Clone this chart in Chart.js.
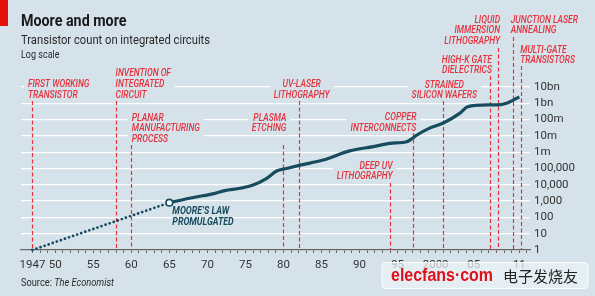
<!DOCTYPE html>
<html>
<head>
<meta charset="utf-8">
<script src="https://cdn.jsdelivr.net/npm/chart.js@4.4.1/dist/chart.umd.min.js"></script>
<style>
  html, body { margin: 0; padding: 0; background: #d5e2ea; }
  #chart { display: block; }
</style>
</head>
<body>
<canvas id="chart" width="595" height="296"></canvas>
<script>
// data
const earlyYears = [1947, 1965];
const earlyCounts = [1, 800];
const years = [1965, 1968, 1971, 1972.3, 1974.3, 1976, 1977.8, 1979.1, 1980.4, 1982.2, 1985.2, 1988.7, 1991.8, 1994, 1996.2, 1997, 1997.5, 1999.2, 2001, 2003.2, 2004.2, 2006.7, 2008.2, 2009.3, 2011];
const counts = [800, 1600, 3000, 4400, 6100, 9700, 25000, 70000, 100000, 160000, 330000, 1.2e6, 2.2e6, 3.5e6, 4.4e6, 7.4e6, 1.1e7, 3e7, 6.2e7, 2.5e8, 6.2e8, 7.9e8, 7.9e8, 1e9, 2.5e9];

const yTicks = [1, 10, 100, 1e3, 1e4, 1e5, 1e6, 1e7, 1e8, 1e9, 1e10];
const yTickLabels = ["1", "10", "100", "1,000", "10,000", "100,000", "1m", "10m", "100m", "1bn", "10bn"];
const xTickYears = [1947, 1950, 1955, 1960, 1965, 1970, 1975, 1980, 1985, 1990, 1995, 2000, 2005, 2011];
const xTickLabels = ["1947", "50", "55", "60", "65", "70", "75", "80", "85", "90", "95", "2000", "05", "11"];

const eventYears = [1947, 1958, 1960, 1980, 1982, 1994, 1997, 2001, 2007.2, 2008.2, 2010.2, 2011.2];
const eventLabels = [
  ["FIRST WORKING", "TRANSISTOR"],
  ["INVENTION OF", "INTEGRATED", "CIRCUIT"],
  ["PLANAR", "MANUFACTURING", "PROCESS"],
  ["PLASMA", "ETCHING"],
  ["UV-LASER", "LITHOGRAPHY"],
  ["DEEP UV", "LITHOGRAPHY"],
  ["COPPER", "INTERCONNECTS"],
  ["STRAINED", "SILICON WAFERS"],
  ["HIGH-K GATE", "DIELECTRICS"],
  ["LIQUID", "IMMERSION", "LITHOGRAPHY"],
  ["JUNCTION LASER", "ANNEALING"],
  ["MULTI-GATE", "TRANSISTORS"]
];

// where each event label sits (pixels), kept apart from the data
const eventLayout = [
  { align: "left", dx: -4.5, y: 84.5, top: 101, padR: 24 },
  { align: "left", dx: -0.5, y: 73.5, top: 101 },
  { align: "left", dx: 0.5, y: 118, top: 145 },
  { align: "right", dx: 3, y: 118, top: 145 },
  { align: "center", dx: 3, y: 84.5, top: 101 },
  { align: "right", dx: 2.5, y: 166, top: 183 },
  { align: "right", dx: 3.5, y: 117.7, top: 133 },
  { align: "center", dx: 1, y: 85, top: 101 },
  { align: "right", dx: 1.5, y: 60, top: 76 },
  { align: "right", dx: 2, y: 20, top: 48 },
  { align: "left", dx: -2.5, y: 20, top: 37 },
  { align: "left", dx: -0.7, y: 50, top: 66 }
];

const BG = "#d5e2ea";
const RED = "#e5323d";
const TEAL = "#174b5e";
const LABEL_FONT = "italic 500 10.8px Roboto";
const LABEL_SX = 0.79;
const LINE_H = 10.7;

function drawText(ctx, str, x, y, font, color, align, sx) {
  ctx.save();
  ctx.font = font;
  ctx.fillStyle = color;
  ctx.textBaseline = "middle";
  ctx.textAlign = "left";
  const w = ctx.measureText(str).width * sx;
  let left = x;
  if (align === "right") left = x - w;
  else if (align === "center") left = x - w / 2;
  ctx.translate(left, y);
  ctx.scale(sx, 1);
  ctx.fillText(str, 0, 0);
  ctx.restore();
  return w;
}

const headerPlugin = {
  id: "header",
  beforeDraw(chart) {
    const ctx = chart.ctx;
    ctx.save();
    ctx.fillStyle = "#e3120b";
    ctx.fillRect(0, 0, 8, 26);
    ctx.restore();
    drawText(ctx, "Moore and more", 21, 21.5, "bold 17px Roboto", "#1a1a1a", "left", 0.84);
    drawText(ctx, "Transistor count on integrated circuits", 21, 41, "13.5px Roboto", "#2a2a2a", "left", 0.83);
    drawText(ctx, "Log scale", 21, 55.5, "10.5px Roboto", "#2a2a2a", "left", 0.86);
    const w = drawText(ctx, "Source: ", 21, 283, "10.5px Roboto", "#2a2a2a", "left", 0.88);
    drawText(ctx, "The Economist", 21 + w, 283, "italic 10.5px Roboto", "#2a2a2a", "left", 0.88);
  }
};

const eventPlugin = {
  id: "events",
  beforeDatasetsDraw(chart) {
    const ctx = chart.ctx;
    const xs = chart.scales.x;
    const bottom = chart.chartArea.bottom;
    ctx.save();
    ctx.font = LABEL_FONT;
    const boxes = eventYears.map((yr, i) => {
      const L = eventLayout[i];
      const px = xs.getPixelForValue(yr);
      const w = Math.max(...eventLabels[i].map(s => ctx.measureText(s).width)) * LABEL_SX;
      const ax = px + L.dx;
      const left = L.align === "left" ? ax : L.align === "right" ? ax - w : ax - w / 2;
      return { px, ax, left, w, L, lines: eventLabels[i] };
    });
    // label backgrounds cut the gridlines
    ctx.fillStyle = BG;
    boxes.forEach(b => {
      const n = b.lines.length;
      ctx.fillRect(b.left - 4, b.L.y - 6, b.w + 8 + (b.L.padR || 0), (n - 1) * LINE_H + 12);
    });
    // dashed event lines
    ctx.strokeStyle = RED;
    ctx.lineWidth = 1.2;
    ctx.setLineDash([4, 2.5]);
    boxes.forEach(b => {
      const x = Math.round(b.px) + 0.5;
      ctx.beginPath();
      ctx.moveTo(x, b.L.top);
      ctx.lineTo(x, bottom);
      ctx.stroke();
    });
    ctx.restore();
    boxes.forEach(b => {
      b.lines.forEach((s, j) => {
        drawText(ctx, s, b.ax, b.L.y + j * LINE_H, LABEL_FONT, RED, b.L.align, LABEL_SX);
      });
    });
    // Moore's law note next to the 1965 point
    const mx = xs.getPixelForValue(years[0]);
    drawText(ctx, "MOORE\u2019S LAW", mx + 3, 211, "italic bold 10.8px Roboto", TEAL, "left", 0.82);
    drawText(ctx, "PROMULGATED", mx + 3, 222, "italic bold 10.8px Roboto", TEAL, "left", 0.82);
  }
};

const watermarkPlugin = {
  id: "watermark",
  afterDraw(chart) {
    const ctx = chart.ctx;
    ctx.save();
    ctx.beginPath();
    ctx.roundRect(382, 262.5, 206, 26, 4);
    ctx.fillStyle = "rgba(236,242,246,0.72)";
    ctx.fill();
    ctx.strokeStyle = "rgba(255,255,255,0.9)";
    ctx.lineWidth = 1;
    ctx.stroke();
    ctx.restore();
    drawText(ctx, "elecfans\u00b7com", 391, 276, "bold 19px 'Liberation Sans'", "#e0101a", "left", 0.84);
    drawText(ctx, "\u7535\u5b50\u53d1\u70e7\u53cb", 503, 276.5, "15px 'Noto Sans CJK SC'", "#222", "left", 1);
  }
};

Chart.defaults.font.family = "Roboto";

new Chart(document.getElementById("chart"), {
  type: "line",
  data: {
    datasets: [
      {
        data: earlyYears.map((x, i) => ({ x, y: earlyCounts[i] })),
        borderColor: TEAL,
        borderWidth: 2.8,
        borderDash: [0, 4.3],
        borderCapStyle: "round",
        pointRadius: 0,
        clip: false,
        order: 2
      },
      {
        data: years.map((x, i) => ({ x, y: counts[i] })),
        borderColor: TEAL,
        borderWidth: 3.2,
        cubicInterpolationMode: "monotone",
        pointRadius: ctx => (ctx.dataIndex === 0 ? 3.3 : 0),
        pointBackgroundColor: "#ffffff",
        pointBorderColor: TEAL,
        pointBorderWidth: 1.6,
        clip: false,
        order: 1
      }
    ]
  },
  options: {
    responsive: false,
    animation: false,
    devicePixelRatio: 1,
    layout: { padding: { left: 21, top: 87, right: 0, bottom: 0 } },
    plugins: {
      legend: { display: false },
      tooltip: { enabled: false }
    },
    scales: {
      x: {
        type: "linear",
        min: 1945.5,
        max: 2012.4,
        afterBuildTicks: s => {
          s.ticks = [];
          for (let yr = 1947; yr <= 2012; yr++) s.ticks.push({ value: yr });
        },
        afterFit: s => { s.height = 46; },
        ticks: {
          autoSkip: false,
          maxRotation: 0,
          padding: 5,
          color: "#333",
          font: { size: 11.5 },
          callback: v => {
            const i = xTickYears.indexOf(v);
            return i < 0 ? "" : xTickLabels[i];
          }
        },
        grid: { drawOnChartArea: false, drawTicks: true, tickLength: 3, color: "#666", lineWidth: 1 },
        border: { display: true, color: "#666", width: 1.2 }
      },
      y: {
        type: "logarithmic",
        position: "right",
        min: 1,
        max: 1e10,
        afterBuildTicks: s => { s.ticks = yTicks.map(v => ({ value: v })); },
        afterFit: s => { s.width = 65; },
        ticks: {
          autoSkip: false,
          padding: 4,
          color: "#333",
          font: { size: 11.5 },
          callback: (v, i) => yTickLabels[i]
        },
        grid: { color: "#ffffff", lineWidth: 1.3, drawTicks: false },
        border: { display: false }
      }
    }
  },
  plugins: [headerPlugin, eventPlugin, watermarkPlugin]
});
</script>
</body>
</html>
